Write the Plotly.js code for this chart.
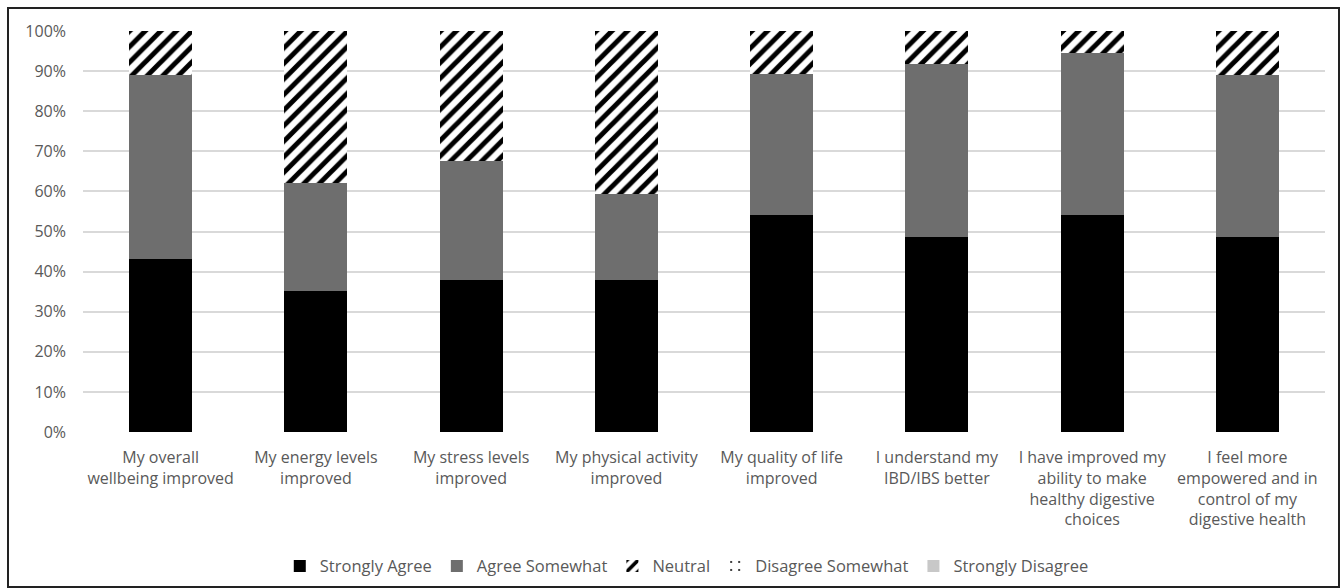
<!DOCTYPE html>
<html>
<head>
<meta charset="utf-8">
<script src="https://cdn.plot.ly/plotly-3.0.1.min.js"></script>
<style>
  html, body { margin: 0; padding: 0; background: #fff; }
  #wrap { position: relative; width: 1344px; height: 588px; }
  #chart { width: 1344px; height: 588px; }
  #frame { position: absolute; left: 7px; top: 7px; width: 1329px; height: 577px;
           border: 2px solid #222; pointer-events: none; }
</style>
</head>
<body>
<div id="wrap">
  <div id="chart"></div>
  <div id="frame"></div>
</div>
<script>
// Survey statements (x categories)
const statements = [
  "My overall<br>wellbeing improved",
  "My energy levels<br>improved",
  "My stress levels<br>improved",
  "My physical activity<br>improved",
  "My quality of life<br>improved",
  "I understand my<br>IBD/IBS better",
  "I have improved my<br>ability to make<br>healthy digestive<br>choices",
  "I feel more<br>empowered and in<br>control of my<br>digestive health"
];

// Share of respondents per answer (%)
const stronglyAgree     = [43.2, 35.1, 37.8, 37.8, 54.1, 48.6, 54.1, 48.6];
const agreeSomewhat     = [45.9, 27.0, 29.7, 21.6, 35.1, 43.2, 40.5, 40.5];
const neutral           = [10.8, 37.8, 32.4, 40.5, 10.8,  8.1,  5.4, 10.8];
const disagreeSomewhat  = [0, 0, 0, 0, 0, 0, 0, 0];
const stronglyDisagree  = [0, 0, 0, 0, 0, 0, 0, 0];

const yTicks = [0, 10, 20, 30, 40, 50, 60, 70, 80, 90, 100];
const yTickText = yTicks.map(v => v + "%");

const FONT = "Open Sans, Noto Sans, sans-serif";
const TXT = "#595959";

function bar(name, values, marker) {
  return { type: "bar", name: name, x: statements, y: values, marker: marker,
           hoverinfo: "x+y+name" };
}

const traces = [
  bar("Strongly Agree", stronglyAgree, { color: "#000000", line: { width: 0 } }),
  bar("Agree Somewhat", agreeSomewhat, { color: "#6e6e6e", line: { width: 0 } }),
  bar("Neutral", neutral, { color: "#ffffff", line: { width: 0 },
      pattern: { shape: "/", fgcolor: "#000000", bgcolor: "#ffffff", size: 11, solidity: 0.45 } }),
  bar("Disagree Somewhat", disagreeSomewhat, { color: "#ffffff", line: { width: 0 },
      pattern: { shape: ".", fgcolor: "#000000", bgcolor: "#ffffff", size: 18, solidity: 0.05 } }),
  bar("Strongly Disagree", stronglyDisagree, { color: "#c8c8c8", line: { width: 0 } })
];

const layout = {
  width: 1344, height: 588,
  margin: { l: 83, r: 19, t: 31, b: 156 },
  paper_bgcolor: "#ffffff", plot_bgcolor: "#ffffff",
  barmode: "stack",
  bargap: 0.595,
  font: { family: FONT, color: TXT, size: 14 },
  xaxis: {
    type: "category",
    tickfont: { family: FONT, size: 16, color: TXT },
    ticks: "", showline: false, showgrid: false, zeroline: false,
    ticklabelstandoff: 14,
    automargin: false
  },
  yaxis: {
    range: [0, 100],
    tickvals: yTicks, ticktext: yTickText,
    tickfont: { family: FONT, size: 16, color: TXT },
    showgrid: true, gridcolor: "#d9d9d9", gridwidth: 2,
    zeroline: false, showline: false, ticks: "",
    ticklabelstandoff: 16,
    automargin: false
  },
  showlegend: true,
  legend: {
    orientation: "h", x: 0.511, xanchor: "center", xref: "container",
    y: 0.037, yanchor: "middle", yref: "container",
    font: { family: FONT, size: 16.5, color: TXT },
    traceorder: "normal", itemwidth: 30, itemclick: false
  }
};

Plotly.newPlot("chart", traces, layout, { displayModeBar: false, staticPlot: true });
</script>
</body>
</html>
